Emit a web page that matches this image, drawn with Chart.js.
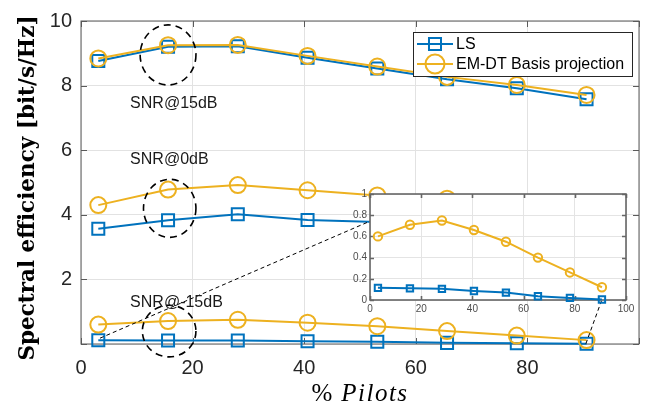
<!DOCTYPE html>
<html>
<head>
<meta charset="utf-8">
<script src="https://cdn.jsdelivr.net/npm/chart.js@4.4.1/dist/chart.umd.min.js"></script>
<style>
  html, body { margin: 0; padding: 0; background: #fff; }
  #wrap { position: relative; width: 660px; height: 409px; }
  #mainChart { position: absolute; left: 0; top: 0; }
  #insetChart { position: absolute; left: 330px; top: 180px; }
</style>
</head>
<body>
<div id="wrap">
  <canvas id="mainChart" width="660" height="409"></canvas>
  <canvas id="insetChart" width="310" height="135"></canvas>
</div>
<script>
// % pilots on the x axis
const pilotPct = [3.1, 15.6, 28.1, 40.6, 53.1, 65.6, 78.1, 90.6];

// spectral efficiency [bit/s/Hz]
const lsSnr15 = [8.76, 9.2, 9.22, 8.86, 8.53, 8.2, 7.92, 7.58];
const emSnr15 = [8.84, 9.25, 9.26, 8.92, 8.59, 8.27, 8.02, 7.71];
const lsSnr0 = [3.57, 3.83, 4.02, 3.84, 3.78, 3.7, 3.6, 3.48];
const emSnr0 = [4.3, 4.78, 4.92, 4.76, 4.6, 4.5, 4.35, 4.2];
const lsSnrM15 = [0.115, 0.11, 0.105, 0.085, 0.07, 0.035, 0.02, 0.005];
const emSnrM15 = [0.6, 0.71, 0.75, 0.66, 0.55, 0.4, 0.26, 0.12];

const seriesNames = ["LS", "EM-DT Basis projection"];
const snrLabels = ["SNR@15dB", "SNR@0dB", "SNR@-15dB"];

const xTicks = [0, 20, 40, 60, 80, 100];
const yTicks = [0, 2, 4, 6, 8, 10];
const insetYTicks = [0, 0.2, 0.4, 0.6, 0.8, 1];

const BLUE = "#0072BD";
const YELLOW = "#EDB120";
const AXIS = "#5a5a5a";

function pts(ys) {
  return ys.map((v, i) => ({ x: pilotPct[i], y: v }));
}

function lineSet(label, ys, color, style, r, lw, order) {
  return {
    label,
    data: pts(ys),
    borderColor: color,
    backgroundColor: "rgba(0,0,0,0)",
    borderWidth: lw,
    pointStyle: style,
    pointRadius: r,
    pointBorderWidth: lw,
    pointBorderColor: color,
    pointBackgroundColor: "rgba(0,0,0,0)",
    pointHoverRadius: r,
    tension: 0,
    clip: false,
    order
  };
}

// frame + inward ticks, like the matlab box
function makeFrame(id, color, width, len) {
  return {
    id,
    beforeDatasetsDraw(chart) {
      const { ctx, chartArea: a } = chart;
      const x = chart.scales.x, y = chart.scales.y;
      ctx.save();
      ctx.strokeStyle = color;
      ctx.lineWidth = width;
      ctx.beginPath();
      x.ticks.forEach(t => {
        const px = Math.round(x.getPixelForValue(t.value)) + 0.5;
        ctx.moveTo(px, a.bottom); ctx.lineTo(px, a.bottom - len);
        ctx.moveTo(px, a.top); ctx.lineTo(px, a.top + len);
      });
      y.ticks.forEach(t => {
        const py = Math.round(y.getPixelForValue(t.value)) + 0.5;
        ctx.moveTo(a.left, py); ctx.lineTo(a.left + len, py);
        ctx.moveTo(a.right, py); ctx.lineTo(a.right - len, py);
      });
      ctx.stroke();
      ctx.strokeRect(a.left, a.top, a.right - a.left, a.bottom - a.top);
      ctx.restore();
    }
  };
}

const annotations = {
  id: "annotations",
  afterDatasetsDraw(chart) {
    const { ctx } = chart;
    const x = chart.scales.x, y = chart.scales.y;
    const X = v => x.getPixelForValue(v);
    const Y = v => y.getPixelForValue(v);
    ctx.save();

    // dashed rings round the second pilot point
    ctx.strokeStyle = "#000";
    ctx.lineWidth = 1.6;
    ctx.setLineDash([7, 5]);
    [[15.6, 8.95, 5.0, 0.93], [15.9, 4.2, 4.7, 0.9], [15.8, 0.4, 4.8, 0.8]].forEach(e => {
      ctx.beginPath();
      ctx.ellipse(X(e[0]), Y(e[1]), X(e[0] + e[2]) - X(e[0]), Y(e[1]) - Y(e[1] + e[3]), 0, 0, Math.PI * 2);
      ctx.stroke();
    });

    // zoom connector lines
    ctx.lineWidth = 1;
    ctx.setLineDash([4, 3]);
    ctx.beginPath();
    ctx.moveTo(X(3.4), Y(0.18));
    ctx.lineTo(X(52.3), Y(3.84));
    ctx.moveTo(X(93.3), Y(1.35));
    ctx.lineTo(X(90.4), Y(-0.03));
    ctx.stroke();
    ctx.setLineDash([]);

    // snr labels
    ctx.fillStyle = "#1a1a1a";
    ctx.font = "16px 'Liberation Sans', Arial, sans-serif";
    ctx.textAlign = "left";
    ctx.textBaseline = "alphabetic";
    ctx.fillText(snrLabels[0], X(8.8), Y(7.32));
    ctx.fillText(snrLabels[1], X(8.8), Y(5.57));
    ctx.fillText(snrLabels[2], X(8.8), Y(1.14));
    ctx.restore();
  }
};

const legendBox = {
  id: "legendBox",
  afterDraw(chart) {
    const { ctx, chartArea: a } = chart;
    const w = 219, h = 44;
    const left = a.right - 7 - w, top = a.top + 11;
    ctx.save();
    ctx.fillStyle = "#fff";
    ctx.fillRect(left, top, w, h);
    ctx.strokeStyle = "#262626";
    ctx.lineWidth = 1;
    ctx.strokeRect(left + 0.5, top + 0.5, w, h);

    const rows = [
      { name: seriesNames[0], color: BLUE, style: "rect", r: 8.5 },
      { name: seriesNames[1], color: YELLOW, style: "circle", r: 9.5 }
    ];
    rows.forEach((row, i) => {
      const cy = top + 12 + i * 20;
      ctx.strokeStyle = row.color;
      ctx.fillStyle = "rgba(0,0,0,0)";
      ctx.lineWidth = 2;
      ctx.beginPath();
      ctx.moveTo(left + 4, cy);
      ctx.lineTo(left + 40, cy);
      ctx.stroke();
      Chart.helpers.drawPoint(ctx, { pointStyle: row.style, radius: row.r, borderWidth: 2 }, left + 22, cy);
      ctx.fillStyle = "#000";
      ctx.font = "16px 'Liberation Sans', Arial, sans-serif";
      ctx.textBaseline = "middle";
      ctx.textAlign = "left";
      ctx.fillText(row.name, left + 43, cy + 1);
    });
    ctx.restore();
  }
};

const axisTitles = {
  id: "axisTitles",
  afterDraw(chart) {
    const { ctx, chartArea: a } = chart;
    ctx.save();
    // y title
    ctx.fillStyle = "#000";
    ctx.font = "bold 21.5px 'DejaVu Serif', serif";
    ctx.textAlign = "center";
    ctx.textBaseline = "middle";
    ctx.translate(28, 188);
    ctx.rotate(-Math.PI / 2);
    ctx.fillText("Spectral efficiency [bit/s/Hz]", 0, 0);
    ctx.restore();

    // x title: upright % and italic Pilots
    ctx.save();
    ctx.fillStyle = "#000";
    ctx.textBaseline = "alphabetic";
    ctx.textAlign = "left";
    const cx = (a.left + a.right) / 2;
    ctx.font = "25px 'Liberation Serif', serif";
    const wPct = ctx.measureText("%").width;
    ctx.font = "italic 25px 'Liberation Serif', serif";
    ctx.letterSpacing = "1.5px";
    const wP = ctx.measureText("Pilots").width;
    const gap = 9;
    const start = cx - (wPct + gap + wP) / 2;
    ctx.letterSpacing = "0px";
    ctx.font = "25px 'Liberation Serif', serif";
    ctx.fillText("%", start, 401);
    ctx.font = "italic 25px 'Liberation Serif', serif";
    ctx.letterSpacing = "1.5px";
    ctx.fillText("Pilots", start + wPct + gap, 401);
    ctx.restore();
  }
};

new Chart(document.getElementById("mainChart"), {
  type: "line",
  data: {
    datasets: [
      lineSet(seriesNames[0], lsSnr15, BLUE, "rect", 8.5, 2, 1),
      lineSet(seriesNames[0], lsSnr0, BLUE, "rect", 8.5, 2, 1),
      lineSet(seriesNames[0], lsSnrM15, BLUE, "rect", 8.5, 2, 1),
      lineSet(seriesNames[1], emSnr15, YELLOW, "circle", 8, 2, 0),
      lineSet(seriesNames[1], emSnr0, YELLOW, "circle", 8, 2, 0),
      lineSet(seriesNames[1], emSnrM15, YELLOW, "circle", 8, 2, 0)
    ]
  },
  options: {
    responsive: false,
    devicePixelRatio: 1,
    animation: false,
    layout: { padding: { left: 0, top: 19, right: 21, bottom: 0 } },
    scales: {
      x: {
        type: "linear",
        min: xTicks[0],
        max: xTicks[xTicks.length - 1],
        afterBuildTicks: s => { s.ticks = xTicks.map(v => ({ value: v })); },
        afterFit: s => { s.height = 65; },
        grid: { color: "#e2e2e2", drawTicks: false },
        border: { display: false },
        ticks: {
          padding: 12,
          color: "#262626",
          font: { family: "'Liberation Sans', Arial, sans-serif", size: 20 },
          callback: v => (v === 100 ? "" : v)
        }
      },
      y: {
        type: "linear",
        min: yTicks[0],
        max: yTicks[yTicks.length - 1],
        afterBuildTicks: s => { s.ticks = yTicks.map(v => ({ value: v })); },
        afterFit: s => { s.width = 81; },
        grid: { color: "#e2e2e2", drawTicks: false },
        border: { display: false },
        ticks: {
          padding: 9,
          color: "#262626",
          font: { family: "'Liberation Sans', Arial, sans-serif", size: 20 },
          callback: v => (v === 0 ? "" : v)
        }
      }
    },
    plugins: {
      legend: { display: false },
      tooltip: { enabled: false }
    }
  },
  plugins: [makeFrame("mainFrame", AXIS, 1, 6), annotations, legendBox, axisTitles]
});

const insetBackground = {
  id: "insetBackground",
  beforeDraw(chart) {
    const { ctx, chartArea: a } = chart;
    ctx.save();
    ctx.fillStyle = "#fff";
    ctx.fillRect(a.left, a.top, a.right - a.left, a.bottom - a.top);
    ctx.restore();
  }
};

new Chart(document.getElementById("insetChart"), {
  type: "line",
  data: {
    datasets: [
      lineSet(seriesNames[0], lsSnrM15, BLUE, "rect", 4.5, 2, 1),
      lineSet(seriesNames[1], emSnrM15, YELLOW, "circle", 4.2, 2, 0)
    ]
  },
  options: {
    responsive: false,
    devicePixelRatio: 1,
    animation: false,
    layout: { padding: { left: 0, top: 14, right: 14, bottom: 0 } },
    scales: {
      x: {
        type: "linear",
        min: 0,
        max: 100,
        afterBuildTicks: s => { s.ticks = xTicks.map(v => ({ value: v })); },
        afterFit: s => { s.height = 15; },
        grid: { color: "#e4e4e4", drawTicks: false },
        border: { display: false },
        ticks: {
          padding: 3,
          color: "#4d4d4d",
          font: { family: "'Liberation Sans', Arial, sans-serif", size: 10 },
          callback: v => String(v)
        }
      },
      y: {
        type: "linear",
        min: 0,
        max: 1,
        afterBuildTicks: s => { s.ticks = insetYTicks.map(v => ({ value: v })); },
        afterFit: s => { s.width = 40; },
        grid: { color: "#e4e4e4", drawTicks: false },
        border: { display: false },
        ticks: {
          padding: 3,
          color: "#4d4d4d",
          font: { family: "'Liberation Sans', Arial, sans-serif", size: 10 },
          callback: v => String(v)
        }
      }
    },
    plugins: {
      legend: { display: false },
      tooltip: { enabled: false }
    }
  },
  plugins: [insetBackground, makeFrame("insetFrame", "#666", 1.6, 4)]
});
</script>
</body>
</html>
